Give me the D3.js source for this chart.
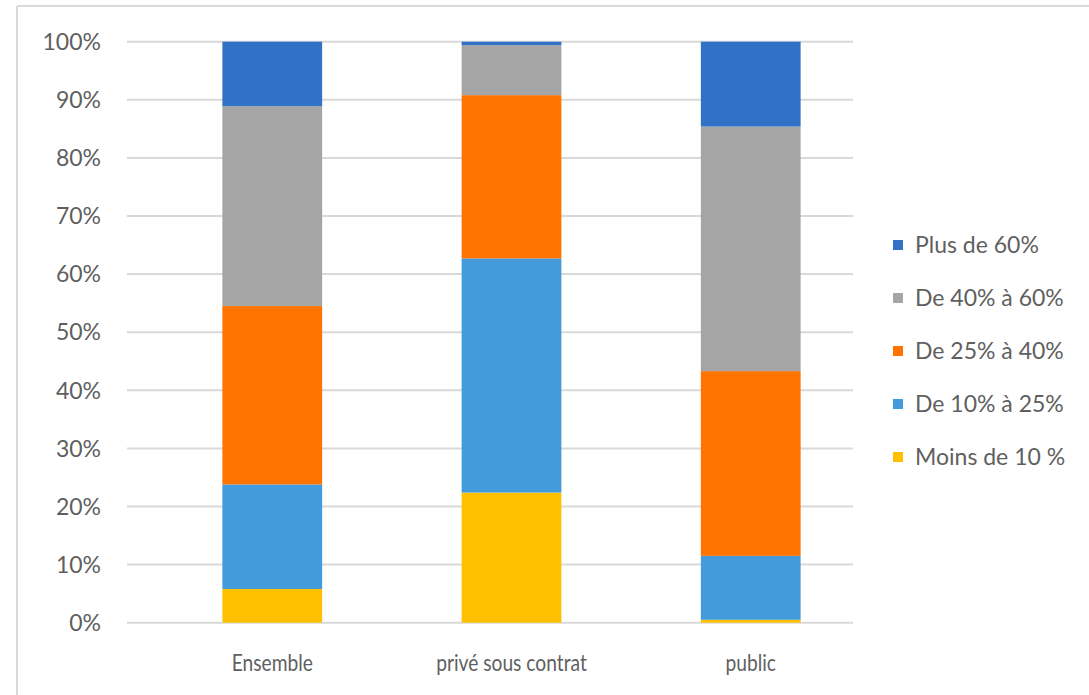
<!doctype html>
<html lang="fr">
  <head>
    <meta charset="utf-8">
    <title>Répartition</title>
    <style>
      * { margin: 0; padding: 0; border: 0; }
      body { background: #fff; width: 1089px; height: 695px; overflow: hidden; }
      svg text { font-family: 'Lato', sans-serif; fill: #5f5f5f; }
    </style>
  </head>
  <body>
    <div id="chart"></div>

<script src="https://cdn.jsdelivr.net/npm/d3@7"></script>
<script>

  // valeurs (en %)
  var categories = ["Ensemble", "privé sous contrat", "public"];
  var seriesNames = ["Moins de 10 %", "De 10% à 25%", "De 25% à 40%", "De 40% à 60%", "Plus de 60%"];
  var moins10   = [5.8, 22.4, 0.5];
  var de10a25   = [18.0, 40.3, 11.0];
  var de25a40   = [30.7, 28.1, 31.8];
  var de40a60   = [34.4, 8.6, 42.1];
  var plus60    = [11.1, 0.6, 14.6];
  var colors = ["#ffc000", "#449bdb", "#ff7300", "#a5a5a5", "#3171c6"];
  var yTicks = [0, 10, 20, 30, 40, 50, 60, 70, 80, 90, 100];

  var width = 1089, height = 695;
  var svg = d3.select("#chart").append("svg").attr("width", width).attr("height", height);

  // cadre
  svg.append("line").attr("x1", 17).attr("x2", width).attr("y1", 6).attr("y2", 6)
    .style("stroke", "#d9d9d9").style("stroke-width", 2);
  svg.append("line").attr("x1", 17).attr("x2", 17).attr("y1", 6).attr("y2", height)
    .style("stroke", "#d9d9d9").style("stroke-width", 2);

  var rows = categories.map((c, i) => ({
    cat: c,
    "Moins de 10 %": moins10[i],
    "De 10% à 25%": de10a25[i],
    "De 25% à 40%": de25a40[i],
    "De 40% à 60%": de40a60[i],
    "Plus de 60%": plus60[i]
  }));
  var stacked = d3.stack().keys(seriesNames)(rows);

  var y = d3.scaleLinear().domain([0, 100]).range([622.7, 41.7]);
  var x = d3.scaleBand().domain(categories).range([153, 870]).paddingInner(0.583).paddingOuter(0.29);

  // grille
  svg.append("g").selectAll("line").data(yTicks).join("line")
    .attr("x1", 127).attr("x2", 853)
    .attr("y1", d => y(d)).attr("y2", d => y(d))
    .style("stroke", "#d9d9d9").style("stroke-width", 2);

  // étiquettes axe y
  svg.append("g").selectAll("text").data(yTicks).join("text")
    .attr("x", 101).attr("y", d => y(d)).attr("dy", "0.36em")
    .attr("text-anchor", "end").style("font-size", "23px")
    .text(d => d + "%");

  // barres
  svg.append("g").selectAll("g").data(stacked).join("g")
    .style("fill", (d, i) => colors[i])
    .selectAll("rect").data(d => d).join("rect")
    .attr("x", d => x(d.data.cat))
    .attr("width", x.bandwidth())
    .attr("y", d => y(d[1]))
    .attr("height", d => y(d[0]) - y(d[1]));

  // étiquettes catégories (police un peu condensée)
  svg.append("g").selectAll("text").data(categories).join("text")
    .attr("transform", d => "translate(" + (x(d) + x.bandwidth() / 2) + ",662) scale(0.8,1)")
    .attr("dy", "0.36em")
    .attr("text-anchor", "middle").style("font-size", "24px")
    .text(d => d);

  // légende
  var legendOrder = seriesNames.slice().reverse();
  var legend = svg.append("g").selectAll("g").data(legendOrder).join("g")
    .attr("transform", (d, i) => "translate(893," + (245 + i * 53) + ")");
  legend.append("rect").attr("x", 0).attr("y", -5).attr("width", 10).attr("height", 10)
    .style("fill", d => colors[seriesNames.indexOf(d)]);
  legend.append("text").attr("x", 22).attr("y", 0).attr("dy", "0.36em")
    .style("font-size", "23px").text(d => d);

</script>
  </body>
</html>
